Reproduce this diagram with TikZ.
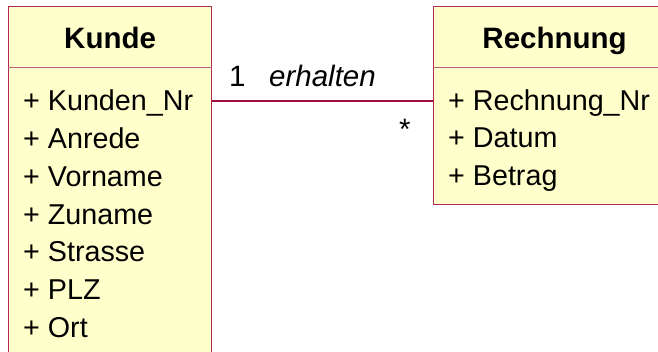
\documentclass[tikz,border=0pt]{standalone}
\usepackage{fontspec}
\setmainfont{Liberation Sans}
\definecolor{boxred}{HTML}{B02858}
\definecolor{seprred}{HTML}{C06080}
\definecolor{linered}{HTML}{A0103C}
\definecolor{boxfill}{HTML}{FFFFCC}
\begin{document}
\begin{tikzpicture}[x=1pt,y=-1pt,
  classbox/.style={draw=boxred, fill=boxfill, line width=1.2pt, inner sep=0pt, anchor=north west},
  sepline/.style={draw=seprred, line width=1pt},
  attr/.style={anchor=base west, inner sep=0pt, font=\fontsize{28.7}{34}\selectfont},
  ctitle/.style={anchor=base, inner sep=0pt, font=\fontsize{29.5}{34}\selectfont\bfseries},
  lbl/.style={anchor=base west, inner sep=0pt, font=\fontsize{29.5}{34}\selectfont},
  assoc/.style={draw=linered, line width=2pt}]
\useasboundingbox (0,0) rectangle (658,352);
% class boxes
\node[classbox, minimum width=203pt, minimum height=370pt] (kunde) at (8,6) {};
\node[classbox, minimum width=242pt, minimum height=198pt] (rechnung) at (433,6) {};
% header separators
\coordinate (hsep) at (0,68);
\draw[sepline] (kunde.west |- hsep) -- (kunde.east |- hsep);
\draw[sepline] (rechnung.west |- hsep) -- (rechnung.east |- hsep);
% titles
\coordinate (tbase) at (0,48.5);
\node[ctitle] (kt) at (kunde.north |- tbase) {Kunde};
\node[ctitle] (rt) at (rechnung.north |- tbase) {Rechnung};
% Kunde attributes
\node[attr] (k1) at (23,111) {+ Kunden\_Nr};
\node[attr] (k2) at (23,148.7) {+ Anrede};
\node[attr] (k3) at (23,186.4) {+ Vorname};
\node[attr] (k4) at (23,224.1) {+ Zuname};
\node[attr] (k5) at (23,261.8) {+ Strasse};
\node[attr] (k6) at (23,299.5) {+ PLZ};
\node[attr] (k7) at (23,337.2) {+ Ort};
% Rechnung attributes
\node[attr] (r1) at (448,110.5) {+ Rechnung\_Nr};
\node[attr] (r2) at (448,148) {+ Datum};
\node[attr] (r3) at (448,185.5) {+ Betrag};
% association
\coordinate (conn) at (0,101);
\draw[assoc] (kunde.east |- conn) -- (rechnung.west |- conn);
\node[lbl] (m1) at (229,87) {1};
\node[lbl] (name) at (269,87) {\itshape erhalten};
\node[lbl] (m2) at (399,140) {*};
\end{tikzpicture}
\end{document}
